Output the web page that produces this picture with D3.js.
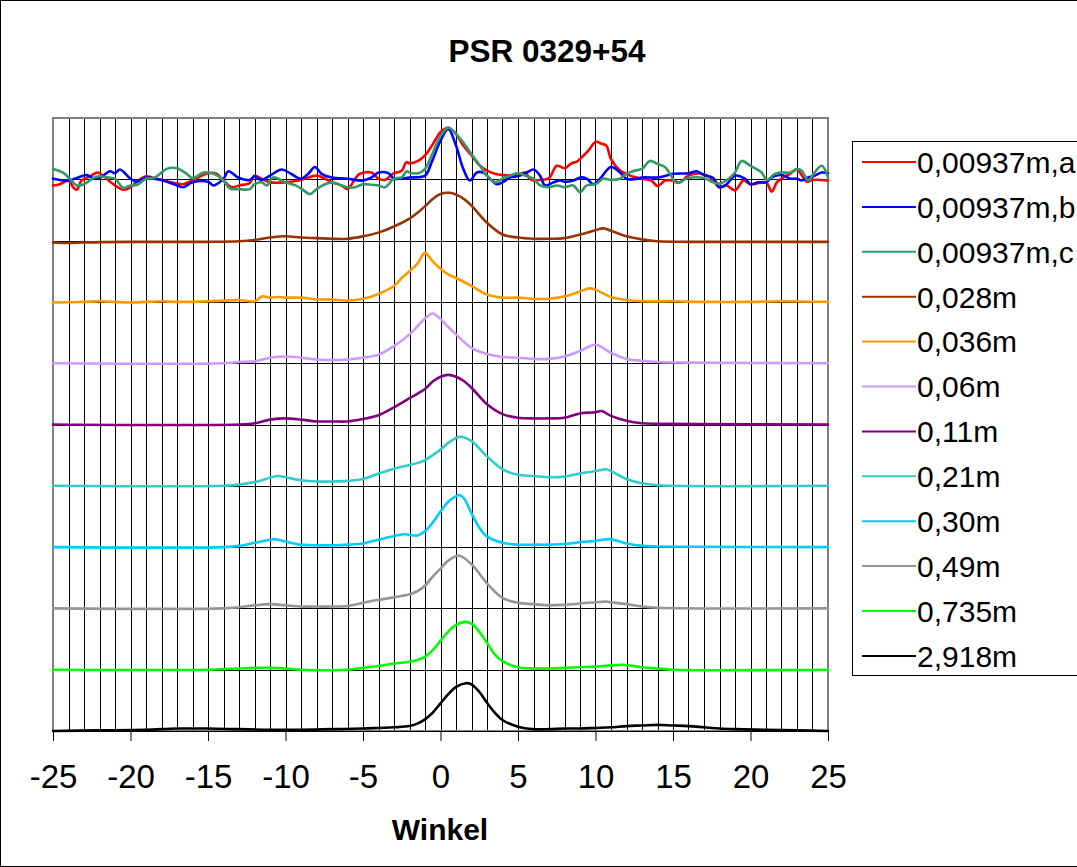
<!DOCTYPE html>
<html>
<head>
<meta charset="utf-8">
<script src="https://cdn.jsdelivr.net/npm/d3@7"></script>
<style>
  html, body { margin: 0; padding: 0; background: #fff; }
  svg { display: block; font-family: "Liberation Sans", Arial, sans-serif; }
</style>
</head>
<body>
<svg id="chart" width="1077" height="867"></svg>
<script>
// ---------------- DATA ----------------
const chartTitle = "PSR 0329+54";
const xAxisTitle = "Winkel";
const xTickValues = [-25, -20, -15, -10, -5, 0, 5, 10, 15, 20, 25];
const seriesNames = ["0,00937m,a", "0,00937m,b", "0,00937m,c", "0,028m", "0,036m", "0,06m",
                     "0,11m", "0,21m", "0,30m", "0,49m", "0,735m", "2,918m"];

// [Winkel, value] pairs
const s00937a = [[-25,8.90],[-24.55,8.92],[-24,8.98],[-23.7,8.87],[-23.47,8.83],[-23.15,8.98],[-22.6,9.05],[-22.1,9.11],[-21.75,9.05],[-21,8.90],[-20.46,8.83],[-20,8.87],[-19.6,8.96],[-19,9.05],[-18.5,9.02],[-18,8.99],[-17,8.93],[-16.6,8.92],[-16,8.98],[-15,9.10],[-14.45,9.09],[-14,8.98],[-13.47,8.87],[-13,8.90],[-12.3,8.94],[-12,9.06],[-11.55,9.01],[-11,8.95],[-10,8.95],[-9,8.99],[-8,9.06],[-7.45,9.01],[-7,8.95],[-6.4,8.90],[-6,8.84],[-5.5,9.01],[-5.2,9.09],[-4.45,9.11],[-4,9.01],[-3.6,8.99],[-3,9.10],[-2.5,9.14],[-2.2,9.28],[-2,9.26],[-1.45,9.30],[-1,9.39],[-0.55,9.55],[0,9.77],[0.5,9.84],[1,9.74],[1.47,9.55],[2,9.39],[2.55,9.22],[3,9.14],[3.5,9.09],[4,9.07],[5,9.07],[5.45,9.11],[5.77,9.01],[6,8.98],[6.4,8.99],[7,9.02],[7.5,9.22],[8,9.18],[8.45,9.26],[8.8,9.29],[9,9.33],[9.55,9.47],[10,9.61],[10.4,9.58],[10.7,9.55],[11,9.33],[11.6,9.14],[12,9.09],[12.45,9.04],[13,9.01],[13.6,8.98],[14,8.89],[14.5,8.98],[15,8.98],[15.45,8.95],[16,9.06],[16.85,9.09],[17.4,9.03],[18,8.87],[18.45,8.90],[19,8.82],[19.55,8.98],[20,8.92],[21,8.95],[21.37,8.80],[21.7,8.95],[22,9.01],[22.55,9.09],[23,9.16],[23.3,9.07],[23.65,8.96],[24,8.99],[25,8.98]];
const s00937b = [[-25,9.01],[-24,8.98],[-23.47,9.02],[-22.83,9.07],[-22.4,9.02],[-21.96,9.03],[-21.32,9.13],[-21,9.10],[-20.68,9.16],[-20,9.01],[-19.6,8.96],[-19,9.03],[-18.5,9.01],[-18,8.99],[-17,8.90],[-16.6,8.87],[-16,8.95],[-15,8.96],[-14.66,8.90],[-14,9.01],[-13.69,9.13],[-13,9.02],[-12.3,8.99],[-12,9.05],[-11.55,8.99],[-11,9.06],[-10.25,9.16],[-9.65,9.09],[-9,9.01],[-8.53,9.09],[-8.1,9.20],[-7.67,9.09],[-7,9.03],[-6,9.01],[-5,8.98],[-4.45,9.03],[-4,9.11],[-3.37,9.10],[-3,9.01],[-2,9.03],[-1,9.06],[-0.57,9.28],[0,9.63],[0.5,9.82],[1,9.55],[1.47,9.17],[1.9,8.98],[2.33,9.11],[2.76,9.11],[3.19,9.01],[3.62,8.92],[4,8.95],[4.48,9.03],[5,9.05],[5.56,9.11],[6,9.16],[6.42,9.06],[6.74,8.90],[7.28,8.95],[7.71,8.98],[8,8.96],[8.57,8.98],[9.04,9.03],[9.43,9.01],[9.86,8.92],[10.29,9.01],[11,9.20],[11.58,9.11],[12,9.01],[12.5,9.00],[13,9.03],[14,9.03],[14.7,9.07],[15,9.09],[16,9.10],[16.53,9.13],[17,9.07],[17.6,9.02],[18,8.87],[18.46,8.92],[19,9.06],[19.64,9.01],[20,8.92],[20.5,8.95],[21,8.95],[21.37,9.03],[22,9.07],[22.56,9.01],[23,9.01],[23.3,8.98],[23.73,9.03],[24.06,9.05],[24.6,9.11],[25,9.10]];
const s00937c = [[-25,9.17],[-24.35,9.11],[-24,9.03],[-23.47,8.90],[-23,8.92],[-22.4,9.02],[-22,9.05],[-21.43,9.03],[-21,9.01],[-20.46,8.86],[-20,8.90],[-19.56,8.91],[-19,9.01],[-18.5,9.02],[-18,9.11],[-17.67,9.17],[-17,9.18],[-16.38,9.09],[-16,9.02],[-15.3,9.11],[-15,9.11],[-14.44,9.07],[-14,8.98],[-13.58,8.85],[-13,8.84],[-12.3,8.84],[-12,8.92],[-11.54,8.95],[-11.2,8.90],[-10.8,9.03],[-10,8.95],[-9.35,8.90],[-9,8.85],[-8.42,8.76],[-8,8.84],[-7.45,8.92],[-7,8.95],[-6.37,8.90],[-6,8.87],[-5.52,8.87],[-5,8.92],[-4.44,8.91],[-4,8.90],[-3.58,8.87],[-3,9.01],[-2.51,9.03],[-2.18,9.13],[-2,9.11],[-1.43,9.10],[-1,9.17],[-0.57,9.39],[0,9.71],[0.5,9.84],[1,9.74],[1.47,9.60],[2,9.41],[2.55,9.22],[3,9.06],[3.52,8.95],[4,9.01],[4.48,9.06],[5,9.10],[5.45,9.06],[6,9.01],[6.42,8.90],[7,8.87],[7.5,8.90],[8,8.87],[8.57,8.90],[9,8.79],[9.43,8.90],[10,8.92],[10.5,9.01],[11,8.99],[11.58,9.01],[12,9.09],[12.5,9.14],[13,9.17],[13.51,9.30],[14,9.25],[14.48,9.20],[15,9.01],[15.23,8.94],[16,9.02],[17,9.02],[17.6,8.95],[18,8.93],[18.59,9.01],[19,9.11],[19.43,9.30],[20,9.22],[20.72,9.11],[21.05,8.99],[21.58,9.09],[22,9.11],[22.56,9.11],[23,9.17],[23.3,9.14],[23.73,8.98],[24.06,9.09],[24.6,9.22],[25,9.03]];
const s0028 = [[-25,7.97],[-24,7.96],[-23,7.97],[-20,7.98],[-15,7.98],[-13,7.99],[-12,8.01],[-11,8.05],[-10,8.07],[-9,8.05],[-8,8.04],[-7,8.03],[-6,8.03],[-5,8.07],[-4,8.13],[-3,8.23],[-2,8.36],[-1.5,8.45],[-1,8.56],[-0.5,8.68],[0,8.76],[0.6,8.78],[1,8.75],[1.5,8.68],[2,8.57],[3,8.29],[4,8.10],[5,8.05],[6,8.03],[7,8.03],[8,8.04],[9,8.10],[10,8.17],[10.5,8.20],[11,8.16],[12,8.07],[13,8.02],[14,7.99],[16,7.98],[20,7.98],[25,7.98]];
const s0036 = [[-25,6.99],[-23,7.00],[-22,7.01],[-20,6.99],[-18,7.01],[-17,7.00],[-15,7.01],[-14,7.02],[-13,7.03],[-12,7.01],[-11.5,7.09],[-11,7.07],[-10.5,7.08],[-10,7.07],[-9,7.07],[-8,7.04],[-7,7.04],[-6,7.02],[-5,7.05],[-4,7.13],[-3,7.26],[-2.5,7.39],[-2,7.50],[-1.5,7.62],[-1,7.80],[-0.5,7.66],[0,7.54],[0.5,7.45],[1,7.39],[2,7.26],[3,7.12],[4,7.07],[5,7.07],[6,7.05],[7,7.05],[8,7.09],[9,7.17],[9.6,7.22],[10,7.20],[11,7.08],[12,7.03],[13,7.01],[15,7.01],[17,7.00],[20,7.00],[22,7.01],[25,7.00]];
const s006 = [[-25,6.0],[-14,6.0],[-13,6.02],[-12,6.03],[-11,6.09],[-10,6.11],[-9,6.09],[-8,6.06],[-7,6.05],[-6,6.06],[-5,6.09],[-4,6.14],[-3,6.28],[-2,6.47],[-1.5,6.60],[-1,6.73],[-0.5,6.81],[0,6.72],[0.5,6.59],[1,6.47],[2,6.25],[3,6.15],[4,6.10],[5,6.09],[6,6.07],[7,6.07],[8,6.11],[9,6.20],[10,6.30],[11,6.17],[12,6.07],[13,6.04],[14,6.02],[16,6.01],[25,6.0]];
const s011 = [[-25,5.0],[-13,5.0],[-12,5.02],[-11,5.08],[-10,5.10],[-9,5.08],[-8,5.05],[-7,5.05],[-6,5.05],[-5,5.09],[-4,5.15],[-3,5.28],[-2,5.43],[-1.5,5.50],[-1,5.58],[-0.5,5.70],[0,5.78],[0.5,5.81],[1,5.78],[1.5,5.71],[2,5.60],[3,5.33],[4,5.17],[5,5.11],[6,5.10],[7,5.10],[8,5.11],[9,5.18],[10,5.20],[10.4,5.22],[11,5.14],[12,5.06],[13,5.02],[14,5.01],[25,5.0]];
const s021 = [[-25,4.0],[-14,4.0],[-13,4.02],[-12,4.06],[-11,4.13],[-10.5,4.16],[-10,4.14],[-9,4.09],[-8,4.07],[-7,4.07],[-6,4.08],[-5,4.11],[-4,4.20],[-3,4.28],[-2,4.34],[-1.5,4.37],[-1,4.42],[-0.5,4.50],[0,4.59],[0.5,4.70],[1,4.78],[1.3,4.80],[2,4.73],[3,4.48],[4,4.27],[5,4.18],[6,4.16],[7,4.14],[8,4.15],[9,4.20],[10,4.24],[10.7,4.27],[11,4.24],[12,4.11],[13,4.04],[14,4.01],[25,4.0]];
const s030 = [[-25,3.0],[-14,3.0],[-13,3.02],[-12,3.07],[-11,3.12],[-10.7,3.13],[-10,3.09],[-9,3.04],[-8,3.03],[-7,3.03],[-6,3.04],[-5,3.06],[-4,3.12],[-3,3.18],[-2.3,3.21],[-2,3.20],[-1.5,3.19],[-1,3.26],[-0.5,3.40],[0,3.58],[0.5,3.74],[1,3.83],[1.2,3.85],[1.5,3.80],[2,3.55],[2.5,3.32],[3,3.17],[4,3.07],[5,3.04],[6,3.04],[7,3.04],[8,3.05],[9,3.08],[10,3.10],[10.9,3.13],[12,3.06],[13,3.02],[14,3.01],[25,3.0]];
const s049 = [[-25,2.0],[-14,2.0],[-13,2.02],[-12,2.05],[-11,2.07],[-10,2.05],[-9,2.03],[-8,2.03],[-7,2.03],[-6,2.04],[-5,2.09],[-4,2.14],[-3,2.18],[-2,2.23],[-1.5,2.28],[-1,2.37],[-0.5,2.52],[0,2.65],[0.5,2.78],[1.2,2.86],[2,2.72],[3,2.41],[4,2.17],[5,2.09],[6,2.07],[7,2.05],[8,2.06],[9,2.08],[10,2.10],[10.7,2.11],[11,2.10],[12,2.07],[13,2.03],[14,2.01],[25,2.0]];
const s0735 = [[-25,1.0],[-15,1.0],[-14,1.01],[-13,1.02],[-12,1.03],[-11,1.03],[-10,1.02],[-9,1.0],[-6,1.0],[-5,1.03],[-4,1.06],[-3,1.10],[-2,1.13],[-1.5,1.16],[-1,1.21],[-0.5,1.32],[0,1.47],[0.5,1.62],[1,1.73],[1.6,1.78],[2,1.75],[2.5,1.62],[3,1.44],[3.5,1.25],[4,1.14],[5,1.04],[6,1.02],[7,1.02],[8,1.03],[9,1.04],[10,1.05],[11,1.07],[11.8,1.08],[13,1.04],[14,1.02],[15,1.0],[25,1.0]];
const s2918 = [[-25,0.0],[-22,0.01],[-19,0.02],[-17,0.04],[-15,0.04],[-13,0.03],[-11,0.02],[-9,0.02],[-7,0.03],[-5,0.04],[-4,0.05],[-3,0.06],[-2,0.08],[-1.5,0.12],[-1,0.19],[-0.5,0.30],[0,0.45],[0.5,0.60],[1,0.72],[1.65,0.78],[2,0.76],[2.5,0.64],[3,0.46],[3.5,0.30],[4,0.18],[5,0.07],[6,0.03],[7,0.03],[8,0.04],[9,0.04],[10,0.05],[11,0.06],[12,0.08],[13,0.09],[14,0.10],[15,0.09],[16,0.08],[17,0.06],[18,0.04],[19,0.03],[21,0.02],[23,0.01],[25,0.0]];

const seriesData = [s00937a, s00937b, s00937c, s0028, s0036, s006, s011, s021, s030, s049, s0735, s2918];

// ---------------- STYLE ----------------
const colors = ["#FF0000", "#0000FF", "#339966", "#993300", "#FF9900", "#CC99FF",
                "#800080", "#33CCCC", "#00CCFF", "#969696", "#00FF00", "#000000"];

const W = 1077, H = 867;
const plot = { left: 53, right: 828, top: 118, bottom: 731 };

const svg = d3.select("#chart");
svg.append("rect").attr("x", 0).attr("y", 0).attr("width", W).attr("height", H).attr("fill", "#fff");
svg.append("rect").attr("x", 0.5).attr("y", 0.5).attr("width", W + 50).attr("height", H - 1)
   .attr("fill", "none").attr("stroke", "#000").attr("stroke-width", 1);

const x = d3.scaleLinear().domain([-25, 25]).range([plot.left, plot.right]);
const y = d3.scaleLinear().domain([0, 10]).range([plot.bottom, plot.top]);

// Title
svg.append("text").attr("x", 547).attr("y", 62).attr("text-anchor", "middle")
   .attr("font-size", 31.5).attr("font-weight", "bold").text(chartTitle);

// gridlines
const g = svg.append("g");
g.selectAll("line.vg").data(d3.range(-24, 25)).join("line")
  .attr("x1", d => Math.round(x(d)) + 0.5).attr("x2", d => Math.round(x(d)) + 0.5)
  .attr("y1", plot.top).attr("y2", plot.bottom)
  .attr("stroke", "#000").attr("stroke-width", 1);
g.selectAll("line.hg").data(d3.range(1, 10)).join("line")
  .attr("x1", plot.left).attr("x2", plot.right)
  .attr("y1", d => Math.round(y(d)) + 0.5).attr("y2", d => Math.round(y(d)) + 0.5)
  .attr("stroke", "#000").attr("stroke-width", 1);

// plot border
svg.append("rect").attr("x", plot.left).attr("y", plot.top)
   .attr("width", plot.right - plot.left).attr("height", plot.bottom - plot.top)
   .attr("fill", "none").attr("stroke", "#808080").attr("stroke-width", 2);

// x axis
const xAxis = d3.axisBottom(x).tickValues(xTickValues).tickSize(10).tickPadding(24)
  .tickFormat(d3.format("d"));
const ax = svg.append("g").attr("transform", `translate(0,${plot.bottom})`).call(xAxis);
ax.select(".domain").attr("stroke", "#000").attr("stroke-width", 1);
ax.selectAll(".tick line").attr("stroke", "#000");
ax.selectAll(".tick text").attr("font-size", 33).attr("fill", "#000")
  .attr("font-family", "'Liberation Sans', Arial, sans-serif")
  .text(d => d < 0 ? "-" + Math.abs(d) : String(d));

svg.append("text").attr("x", 440).attr("y", 840).attr("text-anchor", "middle")
   .attr("font-size", 30).attr("font-weight", "bold").text(xAxisTitle);

// series lines
const line = d3.line().x(d => x(d[0])).y(d => y(d[1])).curve(d3.curveCatmullRom.alpha(0.5));
const lg = svg.append("g");
seriesData.forEach((s, i) => {
  lg.append("path").attr("d", line(s)).attr("fill", "none")
    .attr("stroke", colors[i]).attr("stroke-width", 2.6)
    .attr("stroke-linejoin", "round").attr("stroke-linecap", "round");
});

// legend
const leg = svg.append("g");
leg.append("rect").attr("x", 852.5).attr("y", 141.5).attr("width", 260).attr("height", 534)
   .attr("fill", "#fff").attr("stroke", "#000").attr("stroke-width", 1);
seriesNames.forEach((name, i) => {
  const yy = 162 + i * 44.9;
  leg.append("line").attr("x1", 862).attr("x2", 916).attr("y1", yy).attr("y2", yy)
     .attr("stroke", colors[i]).attr("stroke-width", 2);
  leg.append("text").attr("x", 917).attr("y", yy).attr("dy", "0.36em")
     .attr("font-size", 30).attr("fill", "#000").text(name);
});
</script>
</body>
</html>
